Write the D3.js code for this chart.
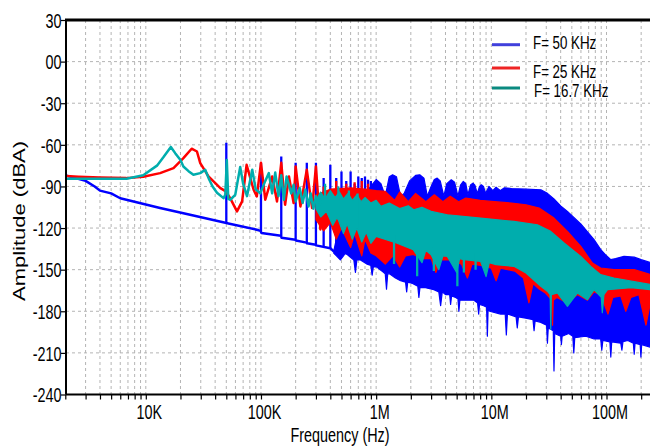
<!DOCTYPE html>
<html><head><meta charset="utf-8">
<script src="https://cdn.jsdelivr.net/npm/d3@7/dist/d3.min.js"></script>
<style>
body{margin:0;background:#fff}
svg{display:block}
text{font-family:"Liberation Sans",Arial,sans-serif;fill:#000}
</style>
</head><body>
<svg id="chart" width="650" height="446"></svg>
<script>
// ---------------- DATA ----------------
const seriesNames = ["F= 50 KHz", "F= 25 KHz", "F= 16.7 KHz"];
const xTickValues = [1e4, 1e5, 1e6, 1e7, 1e8];
const xTickLabels = ["10K", "100K", "1M", "10M", "100M"];
const yTickValues = [30, 0, -30, -60, -90, -120, -150, -180, -210, -240];
const yTickLabels = ["30", "00", "-30", "-60", "-90", "-120", "-150", "-180", "-210", "-240"];

// F = 50 KHz : low-frequency floor trace [Hz, dBA]
const blueFloor = [[2000,-82],[3000,-86],[3600,-90],[4000,-93],[5000,-95],[6000,-98.5],[13300,-105.6],
  [25900,-111],[49000,-116.2],[51000,-116.5],[92000,-121.2],[99000,-122],[101000,-123.6],[149000,-125.5],
  [151000,-127],[199000,-128.5],[201000,-129],[249000,-130.5],[251000,-131],[299000,-132],[301000,-132.5],
  [400000,-134.5],[430000,-137]];
// F = 50 KHz : harmonic spikes [Hz, top dBA, bottom dBA]
const blueSpikes = [[50e3,-58.5,-116.4],[100e3,-73,-122.4],[150e3,-68.5,-125.5],[200e3,-73,-128.4],
  [250e3,-73,-130.8],[300e3,-73,-132],[350e3,-84,-133],[400e3,-74.4,-134.5],[450e3,-84,-136],
  [500e3,-79.2,-138],[550e3,-86,-139],[600e3,-79.2,-140],[650e3,-88,-141],[700e3,-82.8,-142],
  [750e3,-84,-143],[800e3,-82.8,-144],[850e3,-85.2,-145],[900e3,-86,-146],[950e3,-88,-147]];
// F = 50 KHz : dense band envelopes [Hz, dBA]
const blueUpper = [[430e3,-136],[480e3,-118],[550e3,-108],[650e3,-100],[800e3,-95],[900e3,-90],[1.0e6,-85],
  [1.1e6,-88],[1.2e6,-97],[1.3e6,-83],[1.39e6,-81.6],[1.5e6,-83],[1.63e6,-97.2],[1.75e6,-95],[1.95e6,-86],
  [2.2e6,-82],[2.39e6,-81.6],[2.6e6,-84],[2.78e6,-97],[3.0e6,-90],[3.2e6,-85],[3.39e6,-84],[3.6e6,-86],
  [3.87e6,-97],[4.1e6,-88],[4.49e6,-85.2],[4.8e6,-87],[5.13e6,-97],[5.4e6,-89],[5.71e6,-86.4],[6.0e6,-88],
  [6.26e6,-96],[6.6e6,-89],[6.92e6,-87.6],[7.2e6,-89],[7.55e6,-95],[7.9e6,-90],[8.19e6,-88.8],[8.55e6,-90],
  [8.92e6,-95],[9.54e6,-90],[10.3e6,-93],[11e6,-90.5],[12e6,-93],[13e6,-91],[15e6,-91.5],[20e6,-92],
  [26.9e6,-92.4],[30.7e6,-95],[35e6,-99],[40e6,-104],[45.8e6,-108],[59.8e6,-117],[78e6,-128.4],[90e6,-136],
  [100e6,-140],[109e6,-142.8],[120e6,-142],[142e6,-140.4],[174e6,-141],[200e6,-142.8],[243e6,-145]];
const blueLower = [[428e3,-138],[489e3,-143],[520e3,-140],[541e3,-138],[598e3,-141],[640e3,-143],[661e3,-152],
  [680e3,-143],[731e3,-143],[836e3,-146],[900e3,-147],[923e3,-154],[945e3,-148],[1.006e6,-148],[1.165e6,-152],
  [1.2e6,-153],[1.23e6,-164],[1.26e6,-153],[1.306e6,-153],[1.47e6,-156],[1.63e6,-158],[1.8e6,-159],
  [1.84e6,-166],[1.88e6,-159],[2.07e6,-160],[2.3e6,-162],[2.35e6,-170],[2.4e6,-163],[2.68e6,-163],
  [3.17e6,-164.4],[3.5e6,-166],[3.63e6,-176],[3.75e6,-166],[4.0e6,-168],[4.35e6,-168],[4.43e6,-175],
  [4.52e6,-169],[4.9e6,-170],[5.13e6,-171],[5.23e6,-180],[5.33e6,-172],[5.98e6,-172],[7.07e6,-172],
  [7.6e6,-174],[7.76e6,-182],[7.9e6,-175],[8.58e6,-176],[9.1e6,-177],[9.24e6,-198],[9.38e6,-178],
  [9.67e6,-180],[12.05e6,-182],[13.2e6,-182],[13.5e6,-197],[13.8e6,-182],[16.4e6,-184],[16.8e6,-192],
  [17.2e6,-184],[19.9e6,-185],[23e6,-186],[23.5e6,-194],[24e6,-187],[26.9e6,-188],[30.2e6,-190],
  [30.7e6,-203],[31.2e6,-192],[34.5e6,-194],[35e6,-223],[35.5e6,-196],[40e6,-198],[40.6e6,-204],
  [41.2e6,-198],[47e6,-196],[51e6,-198],[52e6,-210],[53e6,-199],[66e6,-198],[78e6,-200],[89e6,-200],
  [91e6,-208],[93e6,-201],[107e6,-202],[109e6,-213],[111e6,-202],[133e6,-203],[136e6,-208],[139e6,-202],
  [153e6,-201],[171e6,-203],[174e6,-211],[177e6,-203],[196e6,-204],[199e6,-213],[202e6,-204],[243e6,-206]];

// F = 25 KHz
const redTrace = [[2000,-82.5],[2600,-83],[4000,-83.5],[6800,-84],[9500,-83],[13300,-80.4],[17400,-76.8],
  [21200,-69.6],[25000,-62.8],[27800,-64.8],[29700,-73.2],[35000,-82.8],[44400,-91.2],[49600,-93.6],
  [54000,-98.4],[61900,-108],[68600,-100.8],[75000,-74.4],[86300,-92.4],[92000,-97.2],[100000,-73],
  [109000,-99.6],[125000,-82.8],[137800,-100.8],[150000,-73],[162000,-103.2],[175000,-82.8],[192000,-102],
  [200000,-75.6],[220000,-104.4],[250000,-78],[278000,-105.6],[300000,-75.6],[328000,-121],[350000,-94.8]];
const redSpikes = [[350e3,-90,-115],[450e3,-86,-118],[550e3,-88,-122],[650e3,-87,-125],[750e3,-86,-128],[850e3,-88,-130]];
const redUpper = [[300e3,-96],[400e3,-92],[600e3,-91],[800e3,-92],[1e6,-93],[1.2e6,-93.6],[1.45e6,-100],
  [1.6e6,-94],[1.9e6,-101],[2.2e6,-95],[2.7e6,-101],[3.2e6,-96],[3.8e6,-101],[4.4e6,-97],[5.2e6,-101],
  [6e6,-98.4],[8e6,-100],[10e6,-100.8],[15e6,-102],[20e6,-103.2],[26e6,-105.6],[35e6,-112.8],[45.8e6,-122.4],
  [59.8e6,-133.2],[75.5e6,-145.2],[89e6,-148.8],[116e6,-150],[174e6,-150],[243e6,-153.6]];
const redLower = [[300e3,-114],[350e3,-122],[400e3,-116],[450e3,-128],[500e3,-120],[600e3,-134],[650e3,-124],
  [750e3,-140],[800e3,-128],[900e3,-138],[1e6,-140],[1.2e6,-146],[1.4e6,-140],[1.6e6,-148],[1.8e6,-140],
  [2.1e6,-139],[2.5e6,-142],[3e6,-142],[3.3e6,-152],[3.6e6,-143],[4.4e6,-143],[5.5e6,-146],[6.2e6,-156],
  [6.8e6,-146],[8.1e6,-147],[10e6,-149],[11e6,-158],[12e6,-149],[16e6,-151],[19e6,-156],[21.2e6,-174],
  [23e6,-160],[26e6,-164],[29.7e6,-167],[33.5e6,-172],[34e6,-190],[34.5e6,-172],[37e6,-170],[45.8e6,-174],
  [56e6,-168],[68.4e6,-172],[78e6,-166],[89e6,-168],[103e6,-182],[113.5e6,-170],[133e6,-169],[147e6,-180],
  [163e6,-170],[191e6,-168],[220e6,-190],[243e6,-172]];

// F = 16.7 KHz
const tealTrace = [[2000,-84.5],[4000,-84.5],[6800,-84.5],[9500,-82],[12500,-75],[14200,-69],[16500,-61.5],
  [18000,-66],[20000,-71],[21200,-75.6],[23500,-79],[25900,-81.6],[29700,-80.4],[32800,-78],[35500,-85],
  [38000,-90],[41500,-94.5],[47300,-98.4],[49000,-96],[50500,-71],[52000,-99],[54100,-99.6],[59800,-96],
  [66000,-76],[70000,-88],[75600,-97],[84000,-78],[90000,-92],[98600,-95],[109000,-86],[117000,-80.4],
  [125000,-95],[133000,-80],[142000,-97],[150000,-82],[158000,-99.6],[167000,-82.8],[183000,-95],
  [192000,-88.8],[200000,-100.8],[217000,-91.2],[230000,-102],[243000,-92.4],[259000,-104.4],[270000,-95],
  [285000,-106],[300000,-97],[315000,-108],[330000,-100]];
const tealSpikes = [[360e3,-88,-108],[470e3,-90,-114],[580e3,-93,-118],[690e3,-95,-120],
  [1.43e6,-125,-146],[2.27e6,-130,-154.8],[3.17e6,-134,-151],[5.07e6,-136,-162],[5.78e6,-136,-152],[7.3e6,-138,-150]];
const tealUpper = [[300e3,-100],[330e3,-94],[360e3,-99],[400e3,-93],[440e3,-98],[480e3,-94],[520e3,-99],
  [570e3,-95],[620e3,-100],[680e3,-96],[740e3,-101],[800e3,-98],[900e3,-102],[1e6,-100],[1.1e6,-104.4],
  [1.3e6,-102],[1.6e6,-106],[1.9e6,-104],[2.12e6,-106.8],[2.5e6,-105],[3e6,-108],[4.15e6,-110.4],
  [8.07e6,-112.8],[15.7e6,-115.2],[25.1e6,-117.6],[32.8e6,-122.4],[42.8e6,-130.8],[59.8e6,-140.4],
  [73e6,-147.6],[89e6,-153.6],[116e6,-156],[243e6,-160.8]];
const tealLower = [[300e3,-106],[330e3,-112],[370e3,-108],[420e3,-118],[460e3,-112],[520e3,-124],
  [560e3,-117],[620e3,-128],[680e3,-120],[750e3,-130],[820e3,-123],[900e3,-131],[1e6,-126],[1.5e6,-130.8],
  [2.1e6,-135.6],[2.5e6,-145],[2.7e6,-136],[3e6,-139.2],[3.5e6,-150],[3.8e6,-140],[4.15e6,-140.4],
  [5e6,-152],[5.3e6,-142],[5.8e6,-142.8],[8.07e6,-144],[9e6,-155],[9.6e6,-145],[11e6,-146.4],[15.7e6,-147.6],
  [20e6,-152.4],[26.9e6,-162],[31e6,-166],[32.4e6,-168],[32.8e6,-193],[33.2e6,-168],[37.5e6,-166.8],
  [45.8e6,-176.4],[56e6,-166.8],[68.4e6,-171.6],[78e6,-164.4],[90e6,-170],[92e6,-181],[95e6,-168],
  [102e6,-164.4],[163e6,-163],[243e6,-164.4]];

// ---------------- STYLE ----------------
const lineColors = ["#0000ff", "#ff0000", "#00adad"];
const legendColors = ["#4040dc", "#ee2424", "#0a8a80"];

// ---------------- CHART ----------------
(function () {
const svg = d3.select("#chart");
const pLeft = 66, pRight = 650, pTop = 20, pBottom = 394.5;
const x = d3.scaleLog().domain([2e3, 1e8]).range([65.3, 606.5]);
const y = d3.scaleLinear().domain([-240, 30]).range([pBottom, pTop]);

// minor log tick positions
const allX = [];
for (let e = 3; e <= 8; e++) for (let m = 1; m <= 9; m++) {
  const v = m * Math.pow(10, e);
  if (v >= 2e3 && x(v) <= pRight) allX.push(v);
}

// grid
const grid = svg.append("g");
grid.selectAll("line.v").data(allX.filter(v => x(v) > pLeft + 1)).join("line")
  .attr("x1", d => x(d)).attr("x2", d => x(d)).attr("y1", pTop).attr("y2", pBottom)
  .attr("stroke", "#b4b4b4").attr("stroke-width", 1).attr("stroke-dasharray", "3,3");
grid.selectAll("line.h").data(yTickValues.filter(v => v > -240 && v < 30)).join("line")
  .attr("x1", pLeft).attr("x2", pRight).attr("y1", d => y(d)).attr("y2", d => y(d))
  .attr("stroke", "#b4b4b4").attr("stroke-width", 1).attr("stroke-dasharray", "3,3");

svg.append("clipPath").attr("id", "plotclip").append("rect")
  .attr("x", pLeft).attr("y", pTop).attr("width", pRight - pLeft).attr("height", pBottom - pTop);
const plot = svg.append("g").attr("clip-path", "url(#plotclip)");

const line = d3.line().x(d => x(d[0])).y(d => y(d[1]));
const series = [
  {trace: blueFloor, spikes: blueSpikes, upper: blueUpper, lower: blueLower},
  {trace: redTrace, spikes: redSpikes, upper: redUpper, lower: redLower},
  {trace: tealTrace, spikes: tealSpikes, upper: tealUpper, lower: tealLower}
];
series.forEach((s, i) => {
  const g = plot.append("g");
  const poly = s.upper.concat(s.lower.slice().reverse());
  g.append("path").attr("d", line(poly) + "Z")
    .attr("fill", lineColors[i]).attr("stroke", lineColors[i]).attr("stroke-width", 1.2)
    .attr("stroke-linejoin", "round");
  g.append("path").attr("d", line(s.trace)).attr("fill", "none")
    .attr("stroke", lineColors[i]).attr("stroke-width", 2.5).attr("stroke-linejoin", "round");
  g.selectAll("line").data(s.spikes).join("line")
    .attr("x1", d => x(d[0])).attr("x2", d => x(d[0]))
    .attr("y1", d => y(d[1])).attr("y2", d => y(d[2]))
    .attr("stroke", lineColors[i]).attr("stroke-width", 2.3);
});

// axes
const xAxis = d3.axisBottom(x).tickValues(allX).tickSize(5).tickSizeOuter(0)
  .tickFormat(d => { const k = xTickValues.indexOf(d); return k >= 0 ? xTickLabels[k] : ""; });
const gx = svg.append("g").attr("transform", `translate(0,${pBottom})`).call(xAxis);
gx.select(".domain").attr("d", `M${pLeft},0H${pRight}`).attr("stroke", "#000").attr("stroke-width", 2);
gx.selectAll(".tick line").attr("stroke", "#000").attr("stroke-width", 1.2);
gx.selectAll(".tick text").attr("y", 0).attr("dy", 0).attr("font-size", 20)
  .attr("transform", "translate(3,24.5) scale(0.72,1)").attr("fill", "#000");

const yAxis = d3.axisLeft(y).tickValues(yTickValues).tickSize(5).tickSizeOuter(0)
  .tickFormat((d, i) => yTickLabels[i]);
const gy = svg.append("g").attr("transform", `translate(${pLeft},0)`).call(yAxis);
gy.select(".domain").attr("d", `M0,${pTop}V${pBottom}`).attr("stroke", "#000").attr("stroke-width", 2);
gy.selectAll(".tick line").attr("stroke", "#000").attr("stroke-width", 1.2);
gy.selectAll(".tick text").attr("x", 0).attr("dy", "0.36em").attr("font-size", 20)
  .attr("transform", "translate(-4.5,0) scale(0.72,1)").attr("fill", "#000");

// top border
svg.append("line").attr("x1", pLeft - 1).attr("x2", pRight).attr("y1", pTop).attr("y2", pTop)
  .attr("stroke", "#000").attr("stroke-width", 3);

// axis titles
svg.append("text").attr("text-anchor", "middle").attr("font-size", 20)
  .attr("transform", "translate(340,442) scale(0.72,1)").text("Frequency (Hz)");
svg.append("text").attr("text-anchor", "middle").attr("font-size", 22)
  .attr("transform", "translate(24.5,221) scale(0.72,1) rotate(-90)").text("Amplitude (dBA)");

// legend
const legendY = [44.7, 68, 88];
const legendTextY = [49, 77.5, 97];
const legendTextX = [533, 533, 534];
const lg = svg.append("g");
seriesNames.forEach((n, i) => {
  lg.append("line").attr("x1", 492).attr("x2", 520).attr("y1", legendY[i]).attr("y2", legendY[i])
    .attr("stroke", legendColors[i]).attr("stroke-width", 3);
  lg.append("text").attr("font-size", 18.5)
    .attr("transform", `translate(${legendTextX[i]},${legendTextY[i]}) scale(0.72,1)`).text(n);
});
})();
</script>
</body></html>
